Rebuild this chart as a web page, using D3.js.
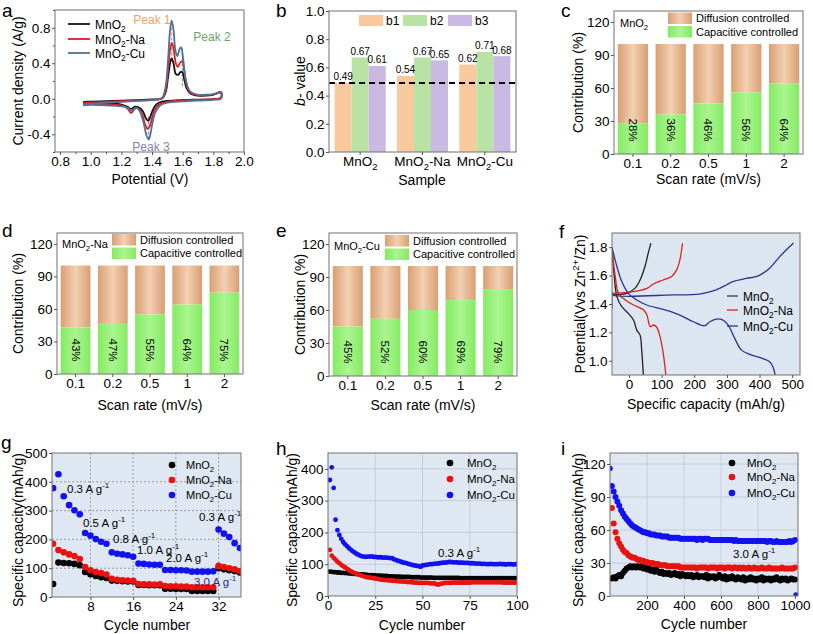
<!DOCTYPE html>
<html><head><meta charset="utf-8">
<script src="https://cdn.jsdelivr.net/npm/d3@7"></script>
<style>body{margin:0;background:#fff}</style>
</head><body>
<svg id="fig" width="813" height="634"></svg>
<script>
// ================= DATA =================
// (a) CV curves: [potential V, current A/g]
const aBlackUp = [[0.95,-0.035],[1.0,-0.032],[1.1,-0.028],[1.2,-0.022],[1.3,-0.015],[1.4,-0.008],[1.45,-0.003],[1.47,0.01],[1.49,0.08],[1.505,0.25],[1.52,0.42],[1.528,0.455],[1.54,0.40],[1.555,0.28],[1.57,0.27],[1.585,0.30],[1.598,0.30],[1.61,0.22],[1.625,0.12],[1.65,0.06],[1.7,0.035],[1.75,0.035],[1.8,0.045],[1.85,0.07]];
const aBlackLo = [[1.85,0.01],[1.8,-0.005],[1.7,-0.01],[1.6,-0.015],[1.5,-0.025],[1.45,-0.04],[1.42,-0.08],[1.40,-0.15],[1.385,-0.22],[1.375,-0.25],[1.36,-0.22],[1.34,-0.14],[1.315,-0.1],[1.29,-0.09],[1.27,-0.11],[1.26,-0.115],[1.24,-0.09],[1.2,-0.065],[1.1,-0.055],[1.0,-0.05],[0.95,-0.05]];
const aRedUp = [[0.95,-0.045],[1.0,-0.042],[1.1,-0.035],[1.2,-0.028],[1.3,-0.02],[1.4,-0.012],[1.45,-0.005],[1.47,0.01],[1.49,0.1],[1.505,0.33],[1.52,0.58],[1.53,0.63],[1.542,0.55],[1.555,0.40],[1.568,0.36],[1.585,0.41],[1.597,0.42],[1.61,0.32],[1.625,0.16],[1.65,0.07],[1.7,0.04],[1.75,0.04],[1.8,0.05],[1.85,0.075]];
const aRedLo = [[1.85,0.01],[1.8,-0.005],[1.7,-0.012],[1.6,-0.02],[1.5,-0.035],[1.45,-0.06],[1.42,-0.12],[1.40,-0.22],[1.385,-0.31],[1.372,-0.34],[1.355,-0.29],[1.335,-0.17],[1.31,-0.11],[1.29,-0.11],[1.275,-0.14],[1.262,-0.16],[1.245,-0.12],[1.22,-0.085],[1.2,-0.075],[1.1,-0.065],[1.0,-0.06],[0.95,-0.06]];
const aCuUp = [[0.95,-0.06],[1.0,-0.055],[1.1,-0.045],[1.2,-0.035],[1.3,-0.025],[1.4,-0.015],[1.45,-0.005],[1.47,0.02],[1.49,0.15],[1.505,0.45],[1.518,0.78],[1.528,0.88],[1.54,0.78],[1.552,0.55],[1.565,0.48],[1.58,0.56],[1.59,0.58],[1.603,0.45],[1.62,0.22],[1.645,0.09],[1.7,0.045],[1.75,0.045],[1.8,0.05],[1.85,0.07]];
const aCuLo = [[1.85,0.0],[1.8,-0.012],[1.7,-0.02],[1.6,-0.03],[1.5,-0.045],[1.45,-0.08],[1.42,-0.16],[1.40,-0.3],[1.388,-0.41],[1.378,-0.46],[1.365,-0.42],[1.345,-0.27],[1.32,-0.14],[1.295,-0.1],[1.28,-0.12],[1.265,-0.135],[1.25,-0.11],[1.22,-0.09],[1.2,-0.085],[1.1,-0.075],[1.0,-0.07],[0.95,-0.075]];
const aPeakV = [1.528, 1.598, 1.377];
const aPeakTop = [0.86, 0.57, -0.2];
const aPeakBot = [0.45, 0.12, -0.45];
const aPeakNames = ['Peak 1','Peak 2','Peak 3'];
const aXTicks = [0.8,1.0,1.2,1.4,1.6,1.8,2.0];
const aYTicks = [-0.4,0.0,0.4,0.8];

// (b) b-values
const bSamples = ['MnO2','MnO2-Na','MnO2-Cu'];
const bSampleLabels = ['MnO_{2}','MnO_{2}-Na','MnO_{2}-Cu'];
const bKeys = ['b1','b2','b3'];
const bB1 = [0.49,0.54,0.62];
const bB2 = [0.67,0.67,0.71];
const bB3 = [0.61,0.65,0.68];
const bThreshold = 0.49;
const bYTicks = [0,0.2,0.4,0.6,0.8,1.0];

// (c,d,e) capacitive contributions (%)
const scanRates = ['0.1','0.2','0.5','1','2'];
const cCap = [28,36,46,56,64];
const dCap = [43,47,55,64,75];
const eCap = [45,52,60,69,79];
const contribTicks = [0,30,60,90,120];

// (f) GCD curves: capacity (mAh/g), potential (V)
const fBlackDisC = [-52,-45,-37,-22,-2,14,24,34,39,44];
const fBlackDisV = [1.80,1.593,1.452,1.381,1.334,1.287,1.216,1.181,1.075,0.90];
const fBlackChC = [-52,-7,18,34,49,59,67];
const fBlackChV = [1.464,1.475,1.51,1.569,1.664,1.758,1.828];
const fRedDisC = [-52,-42,-32,-11,14,45,55,60,65,75,84,94,105,113];
const fRedDisV = [1.78,1.593,1.475,1.428,1.393,1.358,1.322,1.275,1.24,1.252,1.24,1.181,1.052,0.90];
const fRedChC = [-52,14,55,75,105,131,146,156,164];
const fRedChV = [1.475,1.487,1.51,1.541,1.569,1.593,1.64,1.711,1.828];
const fCuDisC = [-52,-37,-22,-2,24,54,105,156,197,232,248,268,288,304,324,345,370,410,431,441,448];
const fCuDisV = [1.80,1.664,1.558,1.475,1.428,1.393,1.362,1.322,1.275,1.247,1.275,1.294,1.287,1.252,1.158,1.075,1.045,1.016,0.993,0.958,0.90];
const fCuChC = [-52,-52,-50,135,216,237,267,298,318,359,390,410,431,462,487,504];
const fCuChV = [1.37,1.48,1.464,1.464,1.47,1.48,1.50,1.534,1.558,1.58,1.593,1.616,1.652,1.734,1.793,1.83];
const fXTicks = [0,100,200,300,400,500];
const fYTicks = [1.0,1.2,1.4,1.6,1.8];

// (g) rate performance, cycles 1..36
const gCycles = d3.range(1,37);
const gBlack = [45,120,118,117,115,110, 87,79,73,69,66, 57,56,55,54,54, 42,42,41,41,41, 29,29,28,28,28, 21,21,21,21,21, 100,96,93,90,85];
const gRed   = [185,163,155,148,142,132, 104,93,87,83,78, 63,60,58,57,56, 45,44,44,43,44, 38,37,37,36,36, 34,34,34,34,34, 108,104,100,96,90];
const gBlue  = [378,426,350,319,301,287, 222,213,201,192,185, 155,150,148,145,140, 116,115,113,112,112, 94,94,93,93,92, 88,88,88,88,89, 234,220,208,187,170];
const gRates = ['0.3 A g^{-1}','0.5 A g^{-1}','0.8 A g^{-1}','1.0 A g^{-1}','2.0 A g^{-1}','3.0 A g^{-1}','0.3 A g^{-1}'];
const gXTicks = [8,16,24,32];
const gYTicks = [0,100,200,300,400,500];

// (h) cycling at 0.3 A/g, cycles 1..100
const hCycles = d3.range(1,101);
const hBlue = [365,405,340,240,207,192,180,170,163,157,151,146,141,137,133,130,127,125,124,123,124,124,125,123,123,122,122,122,121,121,121,120,119,119,115,113,111,109,107,105,104,102,100,99,97,96,95,94,92,96,97,98,99,100,100,101,102,102,103,104,105,105,106,107,107,106,106,106,105,105,105,104,104,104,103,103,103,102,102,102,101,101,101,100,100,101,100,100,100,100,101,100,100,99,100,100,100,99,100,100];
const hRed = [145,127,120,114,108,103,98,94,90,86,82,78,75,72,70,68,66,64,62,60,59,58,57,56,55,54,53,52,51,50,50,49,49,48,48,47,47,46,46,45,45,44,44,43,43,42,42,41,41,41,41,41,41,40,40,40,38,36,37,39,40,41,41,41,41,42,42,42,42,42,42,42,42,42,42,43,43,43,43,43,43,43,43,43,43,43,43,43,43,43,43,43,42,42,42,42,42,42,42,42];
const hBlack = [77,76,75,75,74,74,73,73,72,72,71,71,70,70,69,69,68,68,67,67,66,66,66,65,65,64,64,64,63,63,63,62,62,62,61,61,61,61,60,60,60,60,60,59,59,59,59,59,58,58,58,58,58,58,58,57,57,57,57,57,57,57,57,57,57,57,57,57,57,56,56,56,56,56,56,56,56,56,56,56,56,56,56,56,56,56,56,56,56,56,56,56,56,56,56,56,56,56,56,56];
const hXTicks = [0,25,50,75,100];
const hYTicks = [0,100,200,300,400];

// (i) long cycling at 3.0 A/g, sampled every 10 cycles
const iCycles = d3.range(10,1001,10);
const iBlue = [100,95,90,86,82,78,75,72,70,68,66,64,63,62,61,60,59,58,58,57,57,56,56,56,55,55,55,54,54,54,54,53,53,53,53,53,53,52,52,52,52,52,52,52,52,52,51,52,52,51,52,52,52,51,51,51,51,51,51,51,51,51,51,51,51,51,50,51,50,50,50,50,50,50,50,50,50,50,50,50,50,50,50,50,49,50,50,49,49,50,49,49,49,49,49,49,50,49,50,51];
const iBlueExtraCycles = [1,1005];
const iBlueExtra = [116,1];
const iRed = [80,66,58,52,48,45,42,40,39,37,36,35,35,34,33,33,32,32,31,31,30,30,30,29,29,29,28,28,28,28,27,27,27,27,27,27,27,26,26,26,26,26,26,26,26,26,25,26,26,26,26,26,25,26,26,26,26,25,26,26,26,25,26,26,26,25,26,26,25,26,25,26,25,25,26,25,25,26,25,25,25,26,25,25,25,26,25,25,25,25,25,25,26,25,25,25,25,25,25,26];
const iBlack = [16,17,16,18,19,18,21,23,25,26,27,26,27,26,27,26,27,25,26,24,25,23,24,22,24,22,21,22,20,21,20,21,19,20,21,19,20,18,20,19,18,19,18,19,17,18,19,17,18,18,17,19,16,18,17,18,16,17,19,17,16,18,15,17,16,18,16,15,17,16,15,17,14,16,15,17,15,16,14,16,15,17,14,16,15,16,14,16,15,17,15,14,16,15,16,14,15,16,15,15];
const iXTicks = [200,400,600,800,1000];
const iYTicks = [0,30,60,90,120];

const seriesNames = ['MnO_{2}','MnO_{2}-Na','MnO_{2}-Cu'];

// ================= HELPERS =================
const FONT = 'Arial, "Liberation Sans", Helvetica, sans-serif';
const svg = d3.select('#fig').attr('font-family', FONT);
const defs = svg.append('defs');
const FS = 13.5;

function rich(t, str, fs) {
  const parts = str.split(/(_\{[^}]*\}|\^\{[^}]*\})/).filter(s => s.length);
  let shift = 0;
  parts.forEach(p => {
    let target = 0, s = p, small = false;
    if (p.startsWith('_{')) { target = 0.28 * fs; s = p.slice(2, -1); small = true; }
    else if (p.startsWith('^{')) { target = -0.42 * fs; s = p.slice(2, -1); small = true; }
    const ts = t.append('tspan').text(s);
    if (target - shift !== 0) ts.attr('dy', target - shift);
    if (small) ts.attr('font-size', fs * 0.7);
    shift = target;
  });
}
function T(x, y, str, o = {}) {
  const fs = o.fs || FS;
  const t = svg.append('text').attr('font-size', fs).attr('fill', o.fill || '#000')
    .attr('text-anchor', o.anchor || 'start');
  if (o.rot != null) t.attr('transform', `translate(${x},${y}) rotate(${o.rot})`).attr('dy', fs * 0.35);
  else t.attr('x', x).attr('y', y);
  rich(t, str, fs);
  return t;
}
function panel(id, L, Tp, R, B, bg) {
  const w = R - L, h = B - Tp;
  const g = svg.append('g').attr('transform', `translate(${L},${Tp})`);
  defs.append('clipPath').attr('id', 'clip-' + id).append('rect').attr('width', w).attr('height', h);
  if (bg) g.append('rect').attr('width', w).attr('height', h).attr('fill', bg);
  const grid = g.append('g');
  const plot = g.append('g').attr('clip-path', `url(#clip-${id})`);
  return { g, w, h, grid, plot, L, T: Tp };
}
function frame(p) {
  p.g.append('rect').attr('width', p.w).attr('height', p.h).attr('fill', 'none')
    .attr('stroke', '#7d7d7d').attr('stroke-width', 1.1);
}
function style(a, fs) {
  a.select('.domain').remove();
  a.attr('font-family', FONT).attr('font-size', fs || FS);
  a.selectAll('line').attr('stroke', '#555');
  a.selectAll('text').attr('fill', '#000');
}
function axB(p, sc, vals, fmt, size = 3) {
  const a = p.g.append('g').attr('transform', `translate(0,${p.h})`)
    .call(d3.axisBottom(sc).tickValues(vals).tickFormat(fmt).tickSize(size).tickPadding(1.5).tickSizeOuter(0));
  style(a); return a;
}
function axL(p, sc, vals, fmt, size = 3) {
  const a = p.g.append('g')
    .call(d3.axisLeft(sc).tickValues(vals).tickFormat(fmt).tickSize(size).tickPadding(1.5).tickSizeOuter(0));
  style(a); return a;
}
const f1 = d => d.toFixed(1);
const fInt = d => String(d);

// ================= PANEL a =================
{
  const p = panel('a', 55, 10, 244, 152);
  const x = d3.scaleLinear().domain([0.767, 2.0]).range([0, p.w]);
  const y = d3.scaleLinear().domain([-0.6, 1.0]).range([p.h, 0]);
  const line = d3.line().x(d => x(d[0])).y(d => y(d[1])).curve(d3.curveCatmullRom.alpha(0.5));
  const peakCols = ['#f0a768', '#79b279', '#8f8fc9'];
  aPeakV.forEach((v, i) => {
    p.plot.append('line').attr('x1', x(v)).attr('x2', x(v)).attr('y1', y(aPeakTop[i])).attr('y2', y(aPeakBot[i]))
      .attr('stroke', peakCols[i]).attr('stroke-width', 1.3).attr('stroke-dasharray', '3,2');
  });
  const sets = [[aBlackUp, aBlackLo, '#111'], [aRedUp, aRedLo, '#e3191c'], [aCuUp, aCuLo, '#4f7296']];
  sets.forEach(([u, l, c]) => {
    p.plot.append('path').attr('d', line(u.concat(l))).attr('fill', 'none').attr('stroke', c).attr('stroke-width', 1.8);
  });
  frame(p);
  axB(p, x, aXTicks, f1, 3);
  axB(p, x, d3.range(0.9, 2.0, 0.2).map(v => +v.toFixed(1)), () => '', 2);
  axL(p, y, aYTicks, f1, 3);
  axL(p, y, [-0.6, -0.2, 0.2, 0.6, 1.0], () => '', 2);
  ['#111', '#e3191c', '#4f7296'].forEach((c, i) => {
    const yy = [24, 39, 53][i];
    svg.append('line').attr('x1', 68).attr('x2', 90).attr('y1', yy).attr('y2', yy).attr('stroke', c).attr('stroke-width', 1.8);
    T(95, yy + 4.5, seriesNames[i], { fs: 12 });
  });
  T(152, 24, aPeakNames[0], { fs: 12, anchor: 'middle', fill: '#f0a35e' });
  T(212, 41, aPeakNames[1], { fs: 12, anchor: 'middle', fill: '#6aa46a' });
  T(151, 151, aPeakNames[2], { fs: 12, anchor: 'middle', fill: '#7f80bd' });
  T(18, 81, 'Current density (A/g)', { fs: 14, anchor: 'middle', rot: -90 });
  T(150, 184, 'Potential (V)', { fs: 14, anchor: 'middle' });
}

// ================= PANEL b =================
{
  const p = panel('b', 329, 11, 516, 152);
  const x = d3.scaleBand().domain(bSamples).range([0, p.w]).paddingInner(0.18).paddingOuter(0.09);
  const xs = d3.scaleBand().domain(bKeys).range([0, x.bandwidth()]);
  const y = d3.scaleLinear().domain([0, 1]).range([p.h, 0]);
  const vals = [bB1, bB2, bB3];
  const cols = ['#f7c99c', '#b9e2a5', '#c9b9e3'];
  bSamples.forEach((s, i) => {
    bKeys.forEach((k, j) => {
      const v = vals[j][i];
      p.plot.append('rect').attr('x', x(s) + xs(k)).attr('width', xs.bandwidth())
        .attr('y', y(v)).attr('height', p.h - y(v)).attr('fill', cols[j]);
      p.g.append('text').attr('x', x(s) + xs(k) + xs.bandwidth() / 2).attr('y', y(v) - 2.5)
        .attr('text-anchor', 'middle').attr('font-size', 10).text(v.toFixed(2));
    });
  });
  p.plot.append('line').attr('x1', 0).attr('x2', p.w).attr('y1', y(bThreshold)).attr('y2', y(bThreshold))
    .attr('stroke', '#000').attr('stroke-width', 2).attr('stroke-dasharray', '6,4');
  frame(p);
  const ax = axB(p, x, bSamples, d => d, 3);
  ax.selectAll('text').each(function (d, i) { const t = d3.select(this); t.text(null); rich(t, bSampleLabels[i], FS); });
  axL(p, y, bYTicks, f1, 3);
  bKeys.forEach((k, j) => {
    const lx = [359, 403, 448][j];
    svg.append('rect').attr('x', lx).attr('y', 15).attr('width', 24).attr('height', 11).attr('fill', cols[j]);
    T(lx + 27, 25, k, { fs: 12 });
  });
  const yt = svg.append('text').attr('transform', 'translate(300,81) rotate(-90)').attr('dy', 14 * 0.35)
    .attr('text-anchor', 'middle').attr('font-size', 14);
  yt.append('tspan').attr('font-style', 'italic').text('b');
  yt.append('tspan').text('- value');
  T(422, 185, 'Sample', { fs: 14, anchor: 'middle' });
}

// ================= PANELS c, d, e =================
{
  const gd = defs.append('linearGradient').attr('id', 'gDiff').attr('x1', 0).attr('x2', 1).attr('y1', 0).attr('y2', 0);
  gd.append('stop').attr('offset', 0).attr('stop-color', '#d99f72');
  gd.append('stop').attr('offset', 0.5).attr('stop-color', '#f3d0b2');
  gd.append('stop').attr('offset', 1).attr('stop-color', '#d99f72');
  const gc = defs.append('linearGradient').attr('id', 'gCap').attr('x1', 0).attr('x2', 1).attr('y1', 0).attr('y2', 0);
  gc.append('stop').attr('offset', 0).attr('stop-color', '#84eb62');
  gc.append('stop').attr('offset', 0.5).attr('stop-color', '#aaf58f');
  gc.append('stop').attr('offset', 1).attr('stop-color', '#84eb62');
}
function stackPanel(id, box, cap, name, nameXY, legXY, titleX, xTitleY) {
  const p = panel(id, ...box);
  const x = d3.scaleBand().domain(scanRates).range([0, p.w]).paddingInner(0.2).paddingOuter(0.1);
  const y = d3.scaleLinear().domain([0, 130]).range([p.h, 0]);
  scanRates.forEach((r, i) => {
    p.plot.append('rect').attr('x', x(r)).attr('width', x.bandwidth()).attr('y', y(100))
      .attr('height', y(cap[i]) - y(100)).attr('fill', 'url(#gDiff)');
    p.plot.append('rect').attr('x', x(r)).attr('width', x.bandwidth()).attr('y', y(cap[i]))
      .attr('height', p.h - y(cap[i])).attr('fill', 'url(#gCap)');
    p.g.append('text').attr('transform', `translate(${x(r) + x.bandwidth() / 2},${p.h - 24}) rotate(90)`)
      .attr('dy', 11.5 * 0.35).attr('text-anchor', 'middle').attr('font-size', 11.5).text(cap[i] + '%');
  });
  frame(p);
  axB(p, x, scanRates, d => d, 3);
  axL(p, y, contribTicks, fInt, 3);
  T(nameXY[0], nameXY[1], name, { fs: 11 });
  svg.append('rect').attr('x', legXY[0]).attr('y', legXY[1]).attr('width', 24).attr('height', 11.5).attr('fill', 'url(#gDiff)');
  svg.append('rect').attr('x', legXY[0]).attr('y', legXY[1] + 13.5).attr('width', 24).attr('height', 11.5).attr('fill', 'url(#gCap)');
  T(legXY[0] + 28, legXY[1] + 9.5, 'Diffusion controlled', { fs: 11 });
  T(legXY[0] + 28, legXY[1] + 23, 'Capacitive controlled', { fs: 11 });
  T(titleX, p.T + p.h / 2, 'Contribution (%)', { fs: 14, anchor: 'middle', rot: -90 });
  T(p.L + p.w / 2, xTitleY, 'Scan rate (mV/s)', { fs: 14, anchor: 'middle' });
}
stackPanel('c', [614, 11, 803, 154], cCap, 'MnO_{2}', [620, 27], [668, 12.5], 578, 184);
stackPanel('d', [57, 233, 243, 374], dCap, 'MnO_{2}-Na', [62, 248], [112, 234], 18, 410);
stackPanel('e', [329, 233, 517, 376], eCap, 'MnO_{2}-Cu', [334, 250], [385, 235], 300, 410);

// ================= PANEL f =================
{
  const p = panel('f', 612, 233, 800, 375, '#dce6f1');
  const x = d3.scaleLinear().domain([-52, 524]).range([0, p.w]);
  const y = d3.scaleLinear().domain([0.9, 1.9]).range([p.h, 0]);
  const line = d3.line().x(d => x(d[0])).y(d => y(d[1])).curve(d3.curveCatmullRom.alpha(0.5));
  const z = (c, v) => c.map((cc, i) => [cc, v[i]]);
  const curves = [
    [z(fBlackDisC, fBlackDisV), '#222'], [z(fBlackChC, fBlackChV), '#222'],
    [z(fRedDisC, fRedDisV), '#e0201e'], [z(fRedChC, fRedChV), '#e0201e'],
    [z(fCuDisC, fCuDisV), '#2b3591'], [z(fCuChC, fCuChV), '#2b3591']];
  curves.forEach(([d, c]) => p.plot.append('path').attr('d', line(d)).attr('fill', 'none').attr('stroke', c).attr('stroke-width', 1.3));
  frame(p);
  axB(p, x, fXTicks, fInt, 3);
  axL(p, y, fYTicks, f1, 3);
  ['#333355', '#e0201e', '#2b3591'].forEach((c, i) => {
    const yy = [296, 310, 326][i];
    svg.append('line').attr('x1', 727).attr('x2', 738).attr('y1', yy).attr('y2', yy).attr('stroke', c).attr('stroke-width', 1.3);
    T(743, yy + 4.5, seriesNames[i], { fs: 12 });
  });
  T(580, p.T + p.h / 2, 'Potential(Vvs Zn^{2+}/Zn)', { fs: 14, anchor: 'middle', rot: -90 });
  T(706, 409, 'Specific capacity (mAh/g)', { fs: 14, anchor: 'middle' });
}

// ================= scatter helpers =================
const dotCols = ['#000', '#e8130f', '#1212f0'];
function dots(p, x, y, cyc, vals, col, r) {
  p.plot.append('g').selectAll('circle').data(vals).join('circle')
    .attr('cx', (d, i) => x(cyc[i])).attr('cy', d => y(d)).attr('r', r).attr('fill', col);
}
function legendDots(dx, tx, rows, fs) {
  rows.forEach((yy, i) => {
    svg.append('circle').attr('cx', dx).attr('cy', yy).attr('r', 3.3).attr('fill', dotCols[i]);
    T(tx, yy + 4, seriesNames[i], { fs: fs });
  });
}

// ================= PANEL g =================
{
  const p = panel('g', 52, 453, 241, 597, '#dfe8f2');
  const x = d3.scaleLinear().domain([0.8, 36.2]).range([0, p.w]);
  const y = d3.scaleLinear().domain([0, 500]).range([p.h, 0]);
  gXTicks.forEach(v => p.grid.append('line').attr('x1', x(v)).attr('x2', x(v)).attr('y1', 0).attr('y2', p.h)
    .attr('stroke', '#8a8a8a').attr('stroke-width', 0.8).attr('stroke-dasharray', '2,2'));
  [100, 200, 300, 400].forEach(v => p.grid.append('line').attr('x1', 0).attr('x2', p.w).attr('y1', y(v)).attr('y2', y(v))
    .attr('stroke', '#8a8a8a').attr('stroke-width', 0.8).attr('stroke-dasharray', '2,2'));
  dots(p, x, y, gCycles, gBlack, dotCols[0], 3.3);
  dots(p, x, y, gCycles, gRed, dotCols[1], 3.3);
  dots(p, x, y, gCycles, gBlue, dotCols[2], 3.3);
  frame(p);
  axB(p, x, gXTicks, fInt, 3);
  axL(p, y, gYTicks, fInt, 3);
  legendDots(172, 186, [465, 480, 495], 11);
  const pos = [[67, 493], [83, 527], [113, 543], [137, 554], [166, 562], [194, 586], [199, 521]];
  gRates.forEach((s, i) => T(pos[i][0], pos[i][1], s, { fs: 11.5, fill: i === 5 ? '#2a2a80' : '#000' }));
  T(18, 530, 'Specific capacity(mAh/g)', { fs: 14, anchor: 'middle', rot: -90 });
  T(147, 630, 'Cycle number', { fs: 14, anchor: 'middle' });
}

// ================= PANEL h =================
{
  const p = panel('h', 328, 453, 517, 596, '#dfe8f2');
  const x = d3.scaleLinear().domain([0, 100]).range([0, p.w]);
  const y = d3.scaleLinear().domain([0, 450]).range([p.h, 0]);
  [25, 50, 75].forEach(v => p.grid.append('line').attr('x1', x(v)).attr('x2', x(v)).attr('y1', 0).attr('y2', p.h)
    .attr('stroke', '#bfcad8').attr('stroke-width', 0.9));
  [100, 200, 300, 400].forEach(v => p.grid.append('line').attr('x1', 0).attr('x2', p.w).attr('y1', y(v)).attr('y2', y(v))
    .attr('stroke', '#bfcad8').attr('stroke-width', 0.9));
  dots(p, x, y, hCycles, hBlack, dotCols[0], 2.4);
  dots(p, x, y, hCycles, hRed, dotCols[1], 2.4);
  dots(p, x, y, hCycles, hBlue, dotCols[2], 2.4);
  frame(p);
  axB(p, x, hXTicks, fInt, 3);
  axL(p, y, hYTicks, fInt, 3);
  legendDots(450, 467, [463, 479, 495], 11.5);
  T(438, 557, '0.3 A g^{-1}', { fs: 11.5 });
  T(292, 530, 'Specific capacity(mAh/g)', { fs: 14, anchor: 'middle', rot: -90 });
  T(422, 630, 'Cycle number', { fs: 14, anchor: 'middle' });
}

// ================= PANEL i =================
{
  const p = panel('i', 610, 453, 798, 596, '#dfe8f2');
  const x = d3.scaleLinear().domain([0, 1016]).range([0, p.w]);
  const y = d3.scaleLinear().domain([0, 130]).range([p.h, 0]);
  [200, 400, 600, 800].forEach(v => p.grid.append('line').attr('x1', x(v)).attr('x2', x(v)).attr('y1', 0).attr('y2', p.h)
    .attr('stroke', '#bfcad8').attr('stroke-width', 0.9));
  [30, 60, 90, 120].forEach(v => p.grid.append('line').attr('x1', 0).attr('x2', p.w).attr('y1', y(v)).attr('y2', y(v))
    .attr('stroke', '#bfcad8').attr('stroke-width', 0.9));
  dots(p, x, y, iCycles, iBlack, dotCols[0], 3);
  dots(p, x, y, iCycles, iRed, dotCols[1], 3);
  dots(p, x, y, iCycles, iBlue, dotCols[2], 3);
  dots(p, x, y, iBlueExtraCycles, iBlueExtra, dotCols[2], 2.6);
  frame(p);
  axB(p, x, iXTicks, fInt, 3);
  axL(p, y, iYTicks, fInt, 3);
  legendDots(732, 747, [463, 477, 493], 11.5);
  T(733, 558, '3.0 A g^{-1}', { fs: 11.5 });
  T(578, 530, 'Specific capacity(mAh/g)', { fs: 14, anchor: 'middle', rot: -90 });
  T(704, 629, 'Cycle number', { fs: 14, anchor: 'middle' });
}

// ================= panel letters =================
[['a', 2, 17], ['b', 276, 17], ['c', 561, 17], ['d', 2, 237], ['e', 276, 237], ['f', 559, 238], ['g', 1, 449], ['h', 276, 455], ['i', 561, 455]]
  .forEach(([s, x, y]) => svg.append('text').attr('x', x).attr('y', y).attr('font-size', 19).text(s));
</script>
</body></html>
